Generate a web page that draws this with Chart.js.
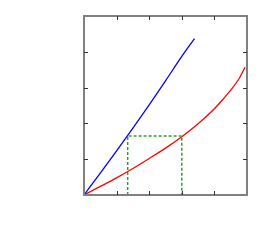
<!DOCTYPE html>
<html>
<head>
<meta charset="utf-8">
<script src="https://cdn.jsdelivr.net/npm/chart.js@4/dist/chart.umd.min.js"></script>
<style>
  html, body { margin: 0; padding: 0; background: #fff; }
  canvas { display: block; }
</style>
</head>
<body>
<canvas id="c" width="275" height="245"></canvas>
<script>
// Curves (axis units 0..5 on both sides)
const xBlue  = [0, 0.5, 1, 1.5, 2, 2.5, 3, 3.39];
const yBlue  = [0, 0.61, 1.23, 1.87, 2.52, 3.19, 3.87, 4.37];
const xRed   = [0, 0.5, 1, 1.5, 2, 2.5, 3, 3.5, 4, 4.25, 4.5, 4.75, 4.94];
const yRed   = [0, 0.24, 0.48, 0.74, 1.02, 1.31, 1.63, 1.99, 2.41, 2.66, 2.93, 3.24, 3.57];
// Green dashed guide (down - across - down)
const xGuide = [1.34, 1.34, 3.0, 3.0];
const yGuide = [0, 1.65, 1.65, 0];
// Tick positions (no labels in the reference)
const xTicks = [1, 2, 3, 4];
const yTicks = [1, 2, 3, 4];

const pts = (xs, ys) => xs.map((x, i) => ({ x: x, y: ys[i] }));

// Frame + inward ticks, drawn from the scales
const framePlugin = {
  id: 'frame',
  afterDraw(chart) {
    const { ctx, chartArea: a, scales } = chart;
    ctx.save();
    ctx.strokeStyle = '#808080';
    ctx.lineWidth = 2;
    ctx.strokeRect(a.left, a.top, a.right - a.left, a.bottom - a.top);
    ctx.strokeStyle = '#333';
    ctx.lineWidth = 1;
    const len = 4;
    ctx.beginPath();
    xTicks.forEach(v => {
      const px = Math.round(scales.x.getPixelForValue(v)) + 0.5;
      ctx.moveTo(px, a.bottom); ctx.lineTo(px, a.bottom - len);
      ctx.moveTo(px, a.top);    ctx.lineTo(px, a.top + len);
    });
    yTicks.forEach(v => {
      const py = Math.round(scales.y.getPixelForValue(v)) + 0.5;
      ctx.moveTo(a.left, py);  ctx.lineTo(a.left + len, py);
      ctx.moveTo(a.right, py); ctx.lineTo(a.right - len, py);
    });
    ctx.stroke();
    ctx.restore();
  }
};

new Chart(document.getElementById('c'), {
  type: 'scatter',
  data: {
    datasets: [
      {
        data: pts(xGuide, yGuide),
        showLine: true, borderColor: '#2ca02c', borderWidth: 1.5,
        borderDash: [3, 2], pointRadius: 0, tension: 0
      },
      {
        data: pts(xBlue, yBlue),
        showLine: true, borderColor: '#0000ff', borderWidth: 1.3,
        pointRadius: 0, cubicInterpolationMode: 'monotone'
      },
      {
        data: pts(xRed, yRed),
        showLine: true, borderColor: '#ff0000', borderWidth: 1.3,
        pointRadius: 0, cubicInterpolationMode: 'monotone'
      }
    ]
  },
  options: {
    responsive: false,
    animation: false,
    layout: { padding: { left: 84, right: 28, top: 16, bottom: 50 } },
    plugins: { legend: { display: false }, tooltip: { enabled: false } },
    scales: {
      x: { type: 'linear', min: 0, max: 5, display: false },
      y: { type: 'linear', min: 0, max: 5, display: false }
    }
  },
  plugins: [framePlugin]
});
</script>
</body>
</html>
